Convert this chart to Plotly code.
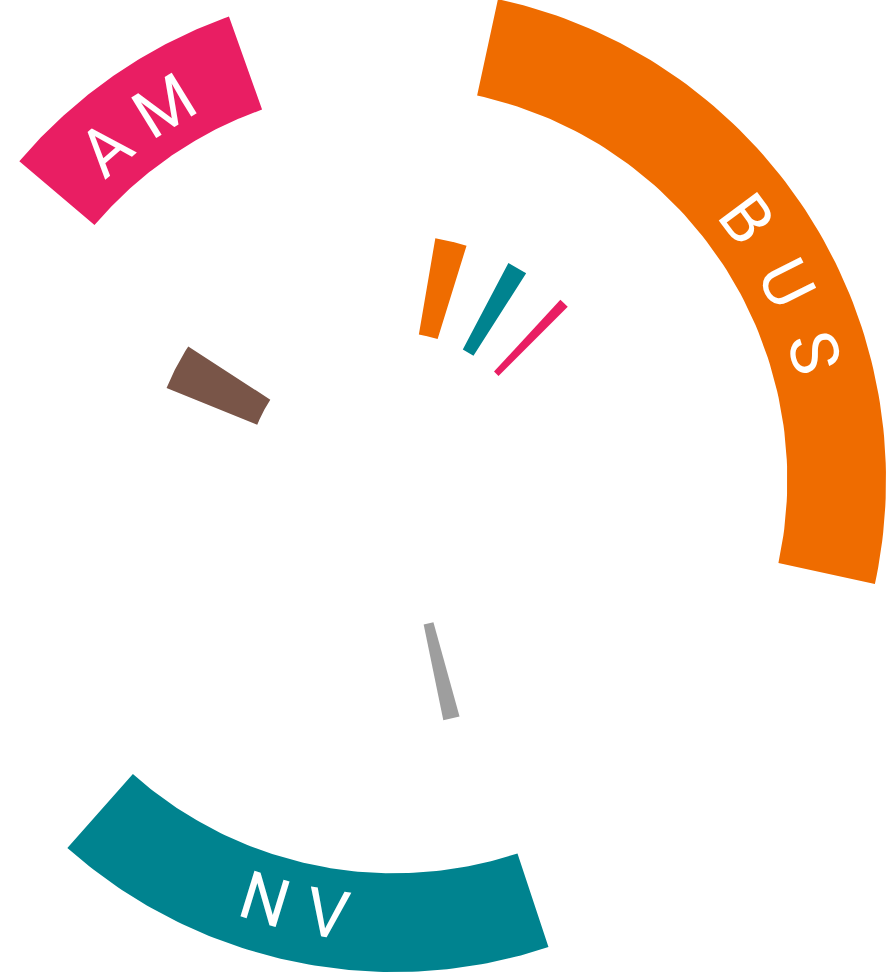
import numpy as np
import plotly.graph_objects as go

# ---- data ----
group_labels = ["AM", "BUS", "NV"]
group_start = [310.4, 12.2, 161.7]      # degrees, clockwise from north
group_end = [340.4, 102.2, 221.6]
group_colors = ["#E91E63", "#EF6C00", "#00838F"]

item_names = ["BUS-1", "NV-1", "AM-1", "A-1", "G-1"]
item_start = [9.7, 27.8, 42.7, 292.0, 164.5]
item_end = [17.2, 32.6, 45.1, 303.0, 168.4]
item_colors = ["#EF6C00", "#00838F", "#E91E63", "#795548", "#9E9E9E"]

# ---- layout constants ----
W, H = 886, 973
CX, CY = 394, H - 480
R_ITEM = (147.5, 245.3)
R_GROUP = (393.3, 492.0)
LABEL_R = 439
label_center = {"AM": 323.7, "BUS": 63.3, "NV": 192.9}
label_step = {"AM": 9.5, "BUS": 9.85, "NV": 8.3}


def wedge(t0, t1, r0, r1, n=90):
    ts = np.radians(np.linspace(t0, t1, n))
    xo = CX + r1 * np.sin(ts)
    yo = CY + r1 * np.cos(ts)
    xi = CX + r0 * np.sin(ts[::-1])
    yi = CY + r0 * np.cos(ts[::-1])
    x = np.concatenate([xo, xi, xo[:1]])
    y = np.concatenate([yo, yi, yo[:1]])
    return x, y


fig = go.Figure()
for lab, s, e, c in zip(group_labels, group_start, group_end, group_colors):
    x, y = wedge(s, e, *R_GROUP)
    fig.add_trace(go.Scatter(x=x, y=y, mode="lines", fill="toself", fillcolor=c,
                             line=dict(width=0, color=c), name=lab,
                             hoverinfo="name", showlegend=False))
for nm, s, e, c in zip(item_names, item_start, item_end, item_colors):
    x, y = wedge(s, e, *R_ITEM)
    fig.add_trace(go.Scatter(x=x, y=y, mode="lines", fill="toself", fillcolor=c,
                             line=dict(width=0, color=c), name=nm,
                             hoverinfo="name", showlegend=False))

annotations = []
for lab in group_labels:
    center = label_center[lab]
    step = label_step[lab]
    n = len(lab)
    bottom = 90 < center < 270
    for i, ch in enumerate(lab):
        off = (i - (n - 1) / 2) * step
        th = center - off if bottom else center + off
        rad = np.radians(th)
        x = CX + LABEL_R * np.sin(rad)
        y = CY + LABEL_R * np.cos(rad)
        ang = th - 180 if bottom else (th if th <= 180 else th - 360)
        annotations.append(dict(x=x, y=y, xref="x", yref="y", text=ch,
                                showarrow=False, textangle=ang,
                                xanchor="center", yanchor="middle",
                                font=dict(family="Roboto", size=67, color="white",
                                          weight=400)))

fig.update_layout(
    width=W, height=H,
    margin=dict(l=0, r=0, t=0, b=0),
    paper_bgcolor="white", plot_bgcolor="white",
    xaxis=dict(range=[0, W], visible=False, fixedrange=True),
    yaxis=dict(range=[0, H], visible=False, fixedrange=True),
    annotations=annotations,
    showlegend=False,
)
fig.write_html("out.html", config={"displayModeBar": False},
               post_script="document.body.style.margin='0';document.body.style.overflow='hidden';")
